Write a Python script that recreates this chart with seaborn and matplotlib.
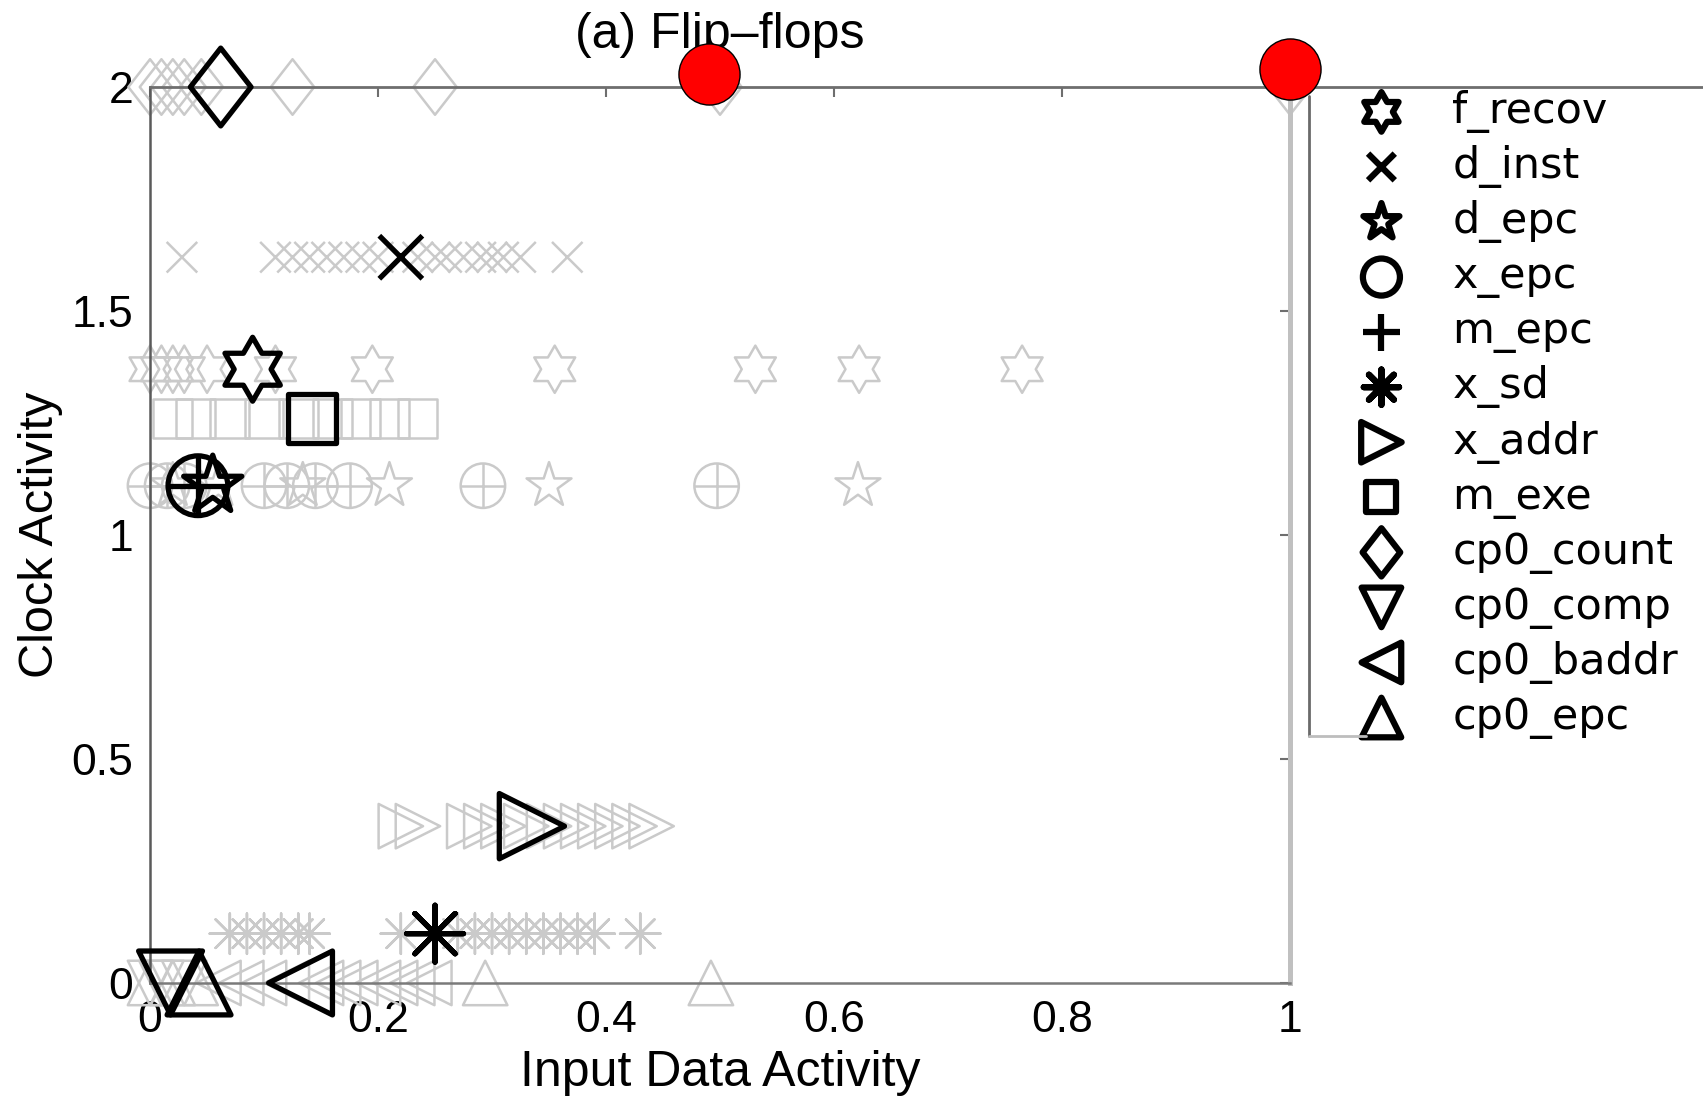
import numpy as np
import matplotlib
matplotlib.use("Agg")
import matplotlib.pyplot as plt
from matplotlib.markers import MarkerStyle
from matplotlib.path import Path
from matplotlib.lines import Line2D
import seaborn as sns

# signals, in legend order
names = ["f_recov", "d_inst", "d_epc", "x_epc", "m_epc", "x_sd",
         "x_addr", "m_exe", "cp0_count", "cp0_comp", "cp0_baddr", "cp0_epc"]
clock_act = [1.37, 1.62, 1.11, 1.11, 1.11, 0.11, 0.35, 1.26, 2.0, 0.0, 0.0, 0.0]
mean_data = [0.09, 0.22, 0.055, 0.042, 0.042, 0.25, 0.335, 0.142, 0.062, 0.018, 0.132, 0.043]

# individual flip-flops (grey)
f_recov_x = [0.0, 0.01, 0.02, 0.03, 0.05, 0.11, 0.195, 0.355, 0.531, 0.622, 0.765]
d_inst_x = [0.028, 0.11, 0.125, 0.14, 0.155, 0.17, 0.185, 0.2, 0.235, 0.25, 0.26,
            0.275, 0.29, 0.3, 0.31, 0.325, 0.366]
d_epc_x = [0.02, 0.06, 0.134, 0.21, 0.35, 0.621]
x_epc_x = [0.0, 0.015, 0.03, 0.1, 0.12, 0.145, 0.175, 0.292, 0.497]
m_epc_x = [0.0, 0.015, 0.03, 0.1, 0.12, 0.145, 0.175, 0.292, 0.497]
x_sd_x = [0.07, 0.085, 0.1, 0.115, 0.13, 0.14, 0.22, 0.27, 0.285, 0.3, 0.315,
          0.33, 0.345, 0.36, 0.375, 0.39, 0.43]
x_addr_x = [0.22, 0.235, 0.28, 0.295, 0.31, 0.33, 0.35, 0.365, 0.38, 0.395,
            0.41, 0.425, 0.44]
m_exe_x = [0.02, 0.04, 0.07, 0.1, 0.13, 0.16, 0.185, 0.21, 0.235]
cp0_count_x = [0.0, 0.01, 0.02, 0.03, 0.045, 0.125, 0.25, 0.5, 1.0]
cp0_comp_x = [0.0, 0.01, 0.03]
cp0_baddr_x = [0.06, 0.08, 0.1, 0.12, 0.15, 0.165, 0.18, 0.2, 0.215, 0.23, 0.245]
cp0_epc_x = [0.0, 0.02, 0.04, 0.294, 0.492]

grey_x = [f_recov_x, d_inst_x, d_epc_x, x_epc_x, m_epc_x, x_sd_x,
          x_addr_x, m_exe_x, cp0_count_x, cp0_comp_x, cp0_baddr_x, cp0_epc_x]

# red dots on top
red_x = [0.49, 1.0]
red_y = [2.03, 2.04]

x_ticks = [0, 0.2, 0.4, 0.6, 0.8, 1]
x_ticklabels = ["0", "0.2", "0.4", "0.6", "0.8", "1"]
y_ticks = [0, 0.5, 1, 1.5, 2]
y_ticklabels = ["0", "0.5", "1", "1.5", "2"]


def closed(verts):
    verts = np.asarray(verts, dtype=float)
    return Path(np.vstack([verts, verts[:1]]), closed=True)


ang = np.deg2rad(90 + 30 * np.arange(12))
rad = np.where(np.arange(12) % 2 == 0, 1.0, 1 / np.sqrt(3))
hexagram = closed(np.column_stack([rad * np.cos(ang), rad * np.sin(ang)]))
diamond = closed([(0, 1), (0.78, 0), (0, -1), (-0.78, 0)])

markers = [hexagram, "x", "*", "o", "+", (8, 2, 0), ">", "s", diamond, "v", "<", "^"]
grey_size = [34, 22, 34, 32, 32, 29, 32, 28, 40, 32, 32, 32]
black_size = [46, 31, 44, 43, 43, 41, 47, 35, 56, 46, 46, 46]

GREY = "#cacaca"

sns.set_style("white")
plt.rcParams["font.family"] = ["Liberation Sans Narrow", "Liberation Sans", "DejaVu Sans"]
plt.rcParams["text.color"] = "black"
plt.rcParams["axes.labelcolor"] = "black"
plt.rcParams["xtick.color"] = "black"
plt.rcParams["ytick.color"] = "black"

fig = plt.figure(figsize=(17.03, 11), dpi=100)
ax = fig.add_axes([0.0881, 0.1064, 0.6694, 0.8145])

for i, name in enumerate(names):
    xs = grey_x[i]
    sns.scatterplot(x=xs, y=[clock_act[i]] * len(xs), ax=ax,
                    marker=MarkerStyle(markers[i], fillstyle="none"),
                    s=grey_size[i] ** 2, color=GREY, linewidths=1.8,
                    zorder=2, clip_on=False)

for i, name in enumerate(names):
    sns.scatterplot(x=[mean_data[i]], y=[clock_act[i]], ax=ax,
                    marker=MarkerStyle(markers[i], fillstyle="none"),
                    s=black_size[i] ** 2, color="black", linewidths=3.8,
                    zorder=3, clip_on=False, label=name)

sns.scatterplot(x=red_x, y=red_y, ax=ax, s=44 ** 2, color="red",
                edgecolor="black", linewidth=1, zorder=6, clip_on=False)

ax.set_xlim(0, 1)
ax.set_ylim(0, 2)
ax.set_xticks(x_ticks)
ax.set_xticklabels(x_ticklabels)
ax.set_yticks(y_ticks)
ax.set_yticklabels(y_ticklabels)
ax.tick_params(direction="in", length=7, width=1.5, color="#6e6e6e",
               top=True, right=True, labelsize=32, pad=12, labelcolor="black")

ax.spines["left"].set(color="#5a5a5a", linewidth=1.8)
ax.spines["top"].set(color="#6e6e6e", linewidth=2)
ax.spines["bottom"].set(color="#7a7a7a", linewidth=1.8)
ax.spines["right"].set(color="#c0c0c0", linewidth=3.6)
# top line runs on past the axes
ax.plot([1, 1.6], [1, 1], transform=ax.transAxes, clip_on=False,
        color="#6e6e6e", linewidth=2, zorder=1)

ax.set_title("(a) Flip\u2013flops", fontsize=36, pad=28, color="black")
ax.set_xlabel("Input Data Activity", fontsize=36, labelpad=7)
ax.set_ylabel("Clock Activity", fontsize=35, labelpad=6)

leg = ax.legend(loc="upper left", bbox_to_anchor=(0.796, 0.918),
                bbox_transform=fig.transFigure, frameon=False, markerscale=0.62,
                prop={"family": "DejaVu Sans", "size": 31}, handlelength=1.2,
                handletextpad=1.05, labelspacing=0.28, borderpad=0, borderaxespad=0)
for h in leg.legend_handles:
    h.set_linewidth(4.5)

# partial legend box edges
fig.add_artist(Line2D([1309 / 1703, 1309 / 1703], [1 - 96 / 1100, 1 - 736 / 1100],
                      color="#6a6a6a", linewidth=2))
fig.add_artist(Line2D([1309 / 1703, 1366 / 1703], [1 - 736 / 1100, 1 - 736 / 1100],
                      color="#bdbdbd", linewidth=2))

fig.savefig("out.png", dpi=100)
